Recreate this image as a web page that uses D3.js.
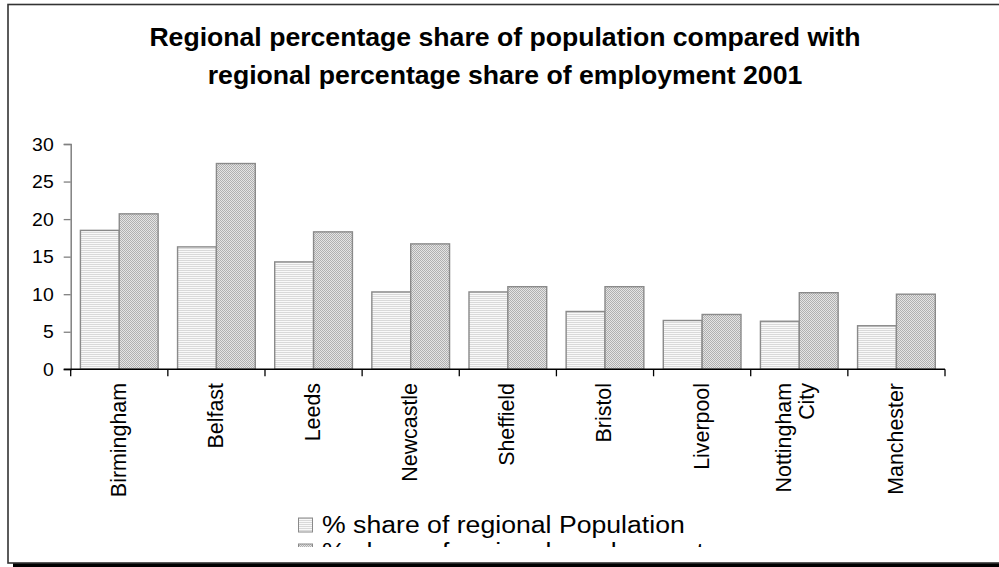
<!DOCTYPE html>
<html>
<head>
<meta charset="utf-8">
<script src="https://cdn.jsdelivr.net/npm/d3@7"></script>
<style>
  html, body { margin: 0; padding: 0; background: #fff; }
  svg { display: block; }
  text { font-family: "Liberation Sans", Arial, Helvetica, sans-serif; fill: #000; }
</style>
</head>
<body>
<svg id="chart" width="999" height="567"></svg>
<script>
// Regional share of population vs. share of employment, 2001
const cities = ["Birmingham", "Belfast", "Leeds", "Newcastle", "Sheffield",
                "Bristol", "Liverpool", "Nottingham City", "Manchester"];
const populationShare = [18.5, 16.3, 14.3, 10.3, 10.3, 7.7, 6.5, 6.4, 5.8];
const employmentShare = [20.7, 27.4, 18.3, 16.7, 11.0, 11.0, 7.3, 10.2, 10.0];
const yTicks = [0, 5, 10, 15, 20, 25, 30];
const seriesNames = ["% share of regional Population", "% share of regional employment"];
const titleLines = ["Regional percentage share of population compared with",
                    "regional percentage share of employment 2001"];

const svg = d3.select("#chart");
const SX = 1.11; // horizontal text stretch

// fill patterns
const defs = svg.append("defs");
const pPop = defs.append("pattern").attr("id", "patPop")
  .attr("patternUnits", "userSpaceOnUse").attr("width", 4).attr("height", 2);
pPop.append("rect").attr("width", 4).attr("height", 2).attr("fill", "#f9f9f9");
pPop.append("rect").attr("width", 4).attr("height", 1).attr("fill", "#d9d9d9");

const pEmp = defs.append("pattern").attr("id", "patEmp")
  .attr("patternUnits", "userSpaceOnUse").attr("width", 2).attr("height", 2);
pEmp.append("rect").attr("width", 2).attr("height", 2).attr("fill", "#e4e4e4");
pEmp.append("rect").attr("x", 0).attr("y", 0).attr("width", 1).attr("height", 1).attr("fill", "#b0b0b0");
pEmp.append("rect").attr("x", 1).attr("y", 1).attr("width", 1).attr("height", 1).attr("fill", "#b0b0b0");

const fills = ["url(#patPop)", "url(#patEmp)"];

// chart frame with drop shadow
svg.append("rect").attr("x", 13).attr("y", 563).attr("width", 1000).attr("height", 4).attr("fill", "#000");
svg.append("rect").attr("x", 8).attr("y", 4.5).attr("width", 1000).attr("height", 558.5)
  .attr("fill", "none").attr("stroke", "#333").attr("stroke-width", 1.6);

// title
const title = svg.append("g");
titleLines.forEach((t, i) => {
  title.append("text")
    .attr("transform", `translate(505,${46 + i * 38}) scale(1.065,1)`)
    .attr("text-anchor", "middle")
    .attr("font-weight", "bold")
    .attr("font-size", 25)
    .text(t);
});

// scales
const x = d3.scaleBand().domain(cities).range([70.7, 945]).padding(0);
const y = d3.scaleLinear().domain([0, 30]).range([369.3, 144]);
const bw = x.bandwidth();

// bars
const series = [populationShare, employmentShare];
series.forEach((vals, s) => {
  svg.append("g").selectAll("rect")
    .data(cities.map((c, i) => ({ c, v: vals[i] })))
    .join("rect")
    .attr("x", d => x(d.c) + bw * (0.1 + 0.4 * s))
    .attr("y", d => y(d.v))
    .attr("width", bw * 0.4)
    .attr("height", d => y(0) - y(d.v))
    .attr("fill", fills[s])
    .attr("stroke", "#8a8a8a")
    .attr("stroke-width", 1.4);
});

// y axis
const yAxis = svg.append("g").attr("transform", "translate(70.7,0)")
  .call(d3.axisLeft(y).tickValues(yTicks).tickSize(7).tickFormat(d3.format("d")));
yAxis.select(".domain").attr("stroke", "#808080").attr("stroke-width", 1.5);
yAxis.selectAll(".tick line").attr("stroke", "#808080").attr("stroke-width", 1.3);
yAxis.selectAll(".tick text").remove();
yAxis.selectAll(".tick").append("text")
  .attr("transform", `translate(-17,0) scale(${SX},1)`)
  .attr("text-anchor", "end")
  .attr("dy", "0.35em")
  .attr("font-size", 17.5)
  .text(d => d);

// x axis: line with ticks on category boundaries
const xg = svg.append("g");
xg.append("line").attr("x1", 63.7).attr("x2", 945).attr("y1", y(0)).attr("y2", y(0))
  .attr("stroke", "#000").attr("stroke-width", 1.5);
const bounds = cities.map(c => x(c)).concat([x.range()[1]]);
xg.selectAll("line.tk").data(bounds).join("line").attr("class", "tk")
  .attr("x1", d => d).attr("x2", d => d)
  .attr("y1", y(0)).attr("y2", y(0) + 7)
  .attr("stroke", "#000").attr("stroke-width", 1.3);

// category labels, rotated
const catFont = 21.4;
cities.forEach(c => {
  const lines = c === "Nottingham City" ? ["Nottingham", "City"] : [c];
  const cx = x(c) + bw / 2 - (lines.length > 1 ? 4 : 1);
  lines.forEach((ln, i) => {
    const off = (i - (lines.length - 1) / 2) * 23;
    xg.append("text")
      .attr("transform", `translate(${cx + off},383) rotate(-90)`)
      .attr("text-anchor", "end")
      .attr("dy", "0.35em")
      .attr("font-size", catFont)
      .text(ln);
  });
});

// legend, clipped at the bottom of the plot box
defs.append("clipPath").attr("id", "legClip")
  .append("rect").attr("x", 0).attr("y", 0).attr("width", 999).attr("height", 547);
const leg = svg.append("g").attr("clip-path", "url(#legClip)");
seriesNames.forEach((n, i) => {
  leg.append("rect").attr("x", 298.5).attr("y", 518 + i * 26).attr("width", 14).attr("height", 14)
    .attr("fill", fills[i]).attr("stroke", "#8a8a8a").attr("stroke-width", 1);
  leg.append("text")
    .attr("transform", `translate(322,${533 + i * 27}) scale(1.12,1)`)
    .attr("font-size", 23.8)
    .text(n);
});
</script>
</body>
</html>
